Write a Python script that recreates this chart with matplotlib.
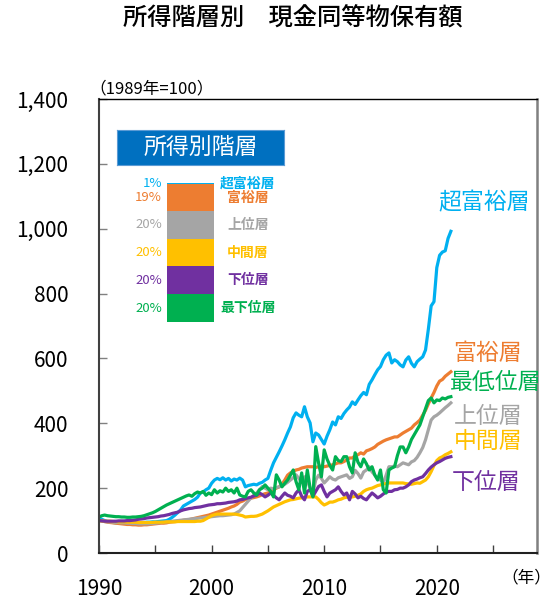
import numpy as np
import matplotlib.pyplot as plt
from matplotlib.ticker import FuncFormatter, MultipleLocator

plt.rcParams['font.family'] = ['Noto Sans CJK JP', 'DejaVu Sans']

# quarterly index, 1989 = 100 (1990Q1 .. 2021Q2)
super_rich = [
    108, 104, 100, 97,   95, 94, 93, 93,   93, 92, 93, 92,   92, 93, 93, 94,
    94, 95, 95, 96,      96, 97, 98, 99,   100, 104, 110, 117, 125, 133, 145, 150,
    155, 160, 165, 172,  185, 188, 195, 200, 215, 225, 230, 226, 232, 225, 230, 222,
    228, 225, 231, 225,  204, 208, 210, 212, 210, 215, 218, 225, 230, 255, 278, 295,
    312, 330, 349, 370,  389, 417, 432, 425, 420, 451, 420, 401, 343, 370, 364, 350,
    336, 360, 380, 404,  395, 420, 415, 430, 441, 450, 466, 458, 472, 485, 495, 488,
    520, 534, 550, 565,  575, 596, 610, 617, 586, 596, 590, 580, 574, 595, 605, 585,
    574, 590, 598, 605,  626, 690, 762, 775, 880, 918, 928, 932, 970, 992,
]
rich = [
    100, 99, 97, 95,     94, 93, 92, 91,   90, 89, 88, 88,   87, 87, 86, 86,
    87, 87, 88, 89,      90, 91, 92, 92,   93, 95, 96, 97,   98, 99, 101, 102,
    103, 105, 107, 109,  111, 113, 115, 117, 120, 123, 126, 129, 132, 135, 138, 142,
    145, 150, 157, 160,  165, 167, 169, 171, 173, 176, 180, 183, 185, 190, 195, 200,
    204, 212, 225, 240,  247, 252, 256, 258, 262, 264, 266, 266, 266, 264, 266, 268,
    266, 268, 270, 272,  275, 278, 278, 282, 287, 293, 293, 300, 303, 309, 305, 315,
    318, 322, 327, 335,  340, 345, 349, 352, 355, 358, 358, 364, 370, 375, 380, 385,
    395, 402, 410, 425,  440, 460, 478, 495, 515, 530, 535, 545, 552, 559,
]
upper = [
    100, 99, 97, 96,     96, 95, 94, 94,   93, 93, 92, 92,   91, 91, 90, 90,
    90, 90, 90, 91,      92, 93, 94, 95,   96, 97, 98, 99,   100, 101, 102, 103,
    104, 105, 106, 107,  108, 109, 110, 111, 112, 113, 114, 115, 115, 116, 117, 118,
    120, 125, 130, 140,  150, 160, 170, 178, 185, 195, 205, 200, 195, 200, 198, 202,
    204, 208, 212, 218,  225, 232, 241, 230, 220, 235, 222, 200, 185, 225, 240, 230,
    216, 225, 235, 228,  225, 232, 235, 238, 241, 230, 235, 255, 245, 231, 250, 256,
    266, 250, 240, 230,  225, 216, 240, 266, 266, 268, 266, 272, 278, 275, 272, 281,
    285, 295, 309, 325,  349, 380, 410, 420, 425, 432, 440, 448, 455, 463,
]
middle = [
    100, 99, 98, 98,     98, 97, 97, 96,   96, 96, 95, 95,   95, 95, 94, 94,
    94, 94, 94, 94,      95, 95, 95, 95,   96, 96, 96, 96,   97, 97, 97, 97,
    97, 97, 97, 98,      98, 100, 105, 110, 115, 118, 120, 120, 120, 120, 120, 120,
    120, 119, 117, 115,  111, 112, 113, 113, 114, 117, 120, 125, 130, 136, 142, 146,
    150, 154, 158, 161,  164, 165, 167, 169, 170, 172, 173, 173, 173, 173, 165, 155,
    148, 152, 157, 157,  160, 164, 166, 170, 172, 173, 173, 175, 178, 182, 190, 195,
    198, 200, 204, 208,  210, 213, 214, 216, 216, 216, 216, 216, 216, 214, 213, 212,
    214, 216, 215, 220,  225, 235, 251, 270, 285, 293, 297, 303, 307, 312,
]
lower = [
    100, 99, 98, 98,     98, 98, 98, 99,   99, 99, 100, 100, 101, 102, 104, 105,
    106, 108, 109, 110,  111, 112, 114, 115, 117, 119, 122, 124, 126, 130, 133, 135,
    137, 138, 140, 141,  142, 144, 146, 148, 149, 150, 152, 152, 153, 154, 156, 157,
    158, 160, 164, 165,  168, 170, 172, 176, 178, 185, 180, 173, 178, 185, 178, 170,
    164, 175, 185, 178,  175, 170, 185, 195, 175, 164, 190, 195, 175, 190, 205, 210,
    190, 173, 185, 190,  195, 204, 190, 179, 185, 164, 190, 182, 170, 175, 168, 164,
    175, 185, 178, 170,  175, 182, 188, 190, 190, 195, 196, 200, 200, 204, 210, 220,
    225, 228, 232, 235,  245, 256, 265, 272, 278, 282, 287, 292, 295, 297,
]
lowest = [
    111, 115, 117, 115,  114, 113, 112, 112, 111, 111, 110, 110, 111, 111, 112, 113,
    115, 118, 121, 124,  128, 133, 138, 143, 148, 152, 156, 160, 164, 168, 172, 176,
    179, 175, 183, 188,  185, 190, 178, 185, 180, 195, 185, 192, 188, 200, 190, 195,
    185, 200, 179, 175,  173, 190, 195, 185, 179, 195, 200, 210, 200, 190, 173, 241,
    225, 204, 215, 225,  240, 256, 220, 195, 247, 185, 256, 200, 173, 328, 278, 235,
    318, 290, 270, 256,  297, 285, 282, 297, 297, 266, 247, 309, 280, 266, 290, 275,
    256, 266, 240, 225,  256, 195, 185, 256, 262, 266, 300, 327, 327, 309, 327, 350,
    365, 380, 395, 420,  445, 470, 478, 463, 472, 470, 478, 475, 480, 482,
]

series = [super_rich, rich, upper, middle, lower, lowest]
colors = ['#00B0F0', '#ED7D31', '#A5A5A5', '#FFC000', '#7030A0', '#00B050']

# end-of-line labels: (text, year, value)
end_labels = ['超富裕層', '富裕層', '上位層', '中間層', '下位層', '最低位層']
end_label_x = [2024.2, 2024.5, 2024.6, 2024.6, 2024.4, 2025.25]
end_label_y = [1080, 614, 420, 343, 216, 525]

# income bracket shares for the stacked bar
shares = [1, 19, 20, 20, 20, 20]
share_labels = ['1%', '19%', '20%', '20%', '20%', '20%']
bracket_names = ['超富裕層', '富裕層', '上位層', '中間層', '下位層', '最下位層']

fig = plt.figure(figsize=(5.53, 6.0), dpi=100)
ax = fig.add_axes([99 / 553, 47 / 600, 438 / 553, 454 / 600])

for vals, c in zip(series, colors):
    t = 1990 + np.arange(len(vals)) / 4
    ax.plot(t, vals, color=c, lw=2.3, solid_joinstyle='round')

for txt, xx, yy, c in zip(end_labels, end_label_x, end_label_y, colors):
    ax.text(xx, yy, txt, color=c, fontsize=16.5, ha='center', va='center')

ax.set_xlim(1990, 2028.9)
ax.set_ylim(0, 1400)
ax.xaxis.set_major_locator(MultipleLocator(10))
ax.xaxis.set_minor_locator(MultipleLocator(5))
ax.yaxis.set_major_locator(MultipleLocator(200))
ax.yaxis.set_major_formatter(FuncFormatter(lambda v, p: f'{int(v):,}'))
ax.tick_params(axis='y', direction='in', length=6, width=1, color='#808080',
               pad=22, labelsize=15)
ax.tick_params(axis='x', which='both', direction='in', length=6, width=1,
               color='#404040', pad=18, labelsize=15)

ax.spines['left'].set_color('#404040')
ax.spines['left'].set_linewidth(1.5)
ax.spines['bottom'].set_color('#202020')
ax.spines['bottom'].set_linewidth(1.5)
ax.spines['top'].set_color('#000000')
ax.spines['top'].set_linewidth(1.0)
ax.spines['right'].set_color('#808080')
ax.spines['right'].set_linewidth(1.8)

fig.text(293 / 553, 1 - 19 / 600, '所得階層別　現金同等物保有額',
         fontsize=17.5, fontweight='medium', ha='center', va='center')
fig.text(89 / 553, 1 - 89 / 600, '（1989年=100）', fontsize=12,
         ha='left', va='center')
fig.text(551 / 553, 1 - 578 / 600, '（年）', fontsize=12,
         ha='right', va='center')

# legend: stacked share bar, y in percent
lax = fig.add_axes([100 / 553, 1 - 322 / 600, 200 / 553, 139 / 600])
lax.set_xlim(100, 300)
lax.set_ylim(0, 100)
lax.axis('off')

bottoms = np.cumsum([0] + shares[::-1])[:-1][::-1]
for s, b, c, pl, nm in zip(shares, bottoms, colors, share_labels, bracket_names):
    lax.bar(190.5, s, bottom=b, width=47, color=c, edgecolor='none')
    lax.text(162, b + s / 2, pl, color=c, fontsize=9.5, ha='right', va='center')
    lax.text(248, b + s / 2, nm, color=c, fontsize=10, fontweight='bold',
             ha='center', va='center')

hax = fig.add_axes([117 / 553, 1 - 165 / 600, 167 / 553, 35 / 600])
hax.set_xticks([])
hax.set_yticks([])
hax.set_facecolor('#0070C0')
for sp in hax.spines.values():
    sp.set_color('#5B9BD5')
hax.text(0.5, 0.5, '所得別階層', color='white', fontsize=16.5,
         ha='center', va='center', transform=hax.transAxes)

fig.savefig('out.png', dpi=100)
